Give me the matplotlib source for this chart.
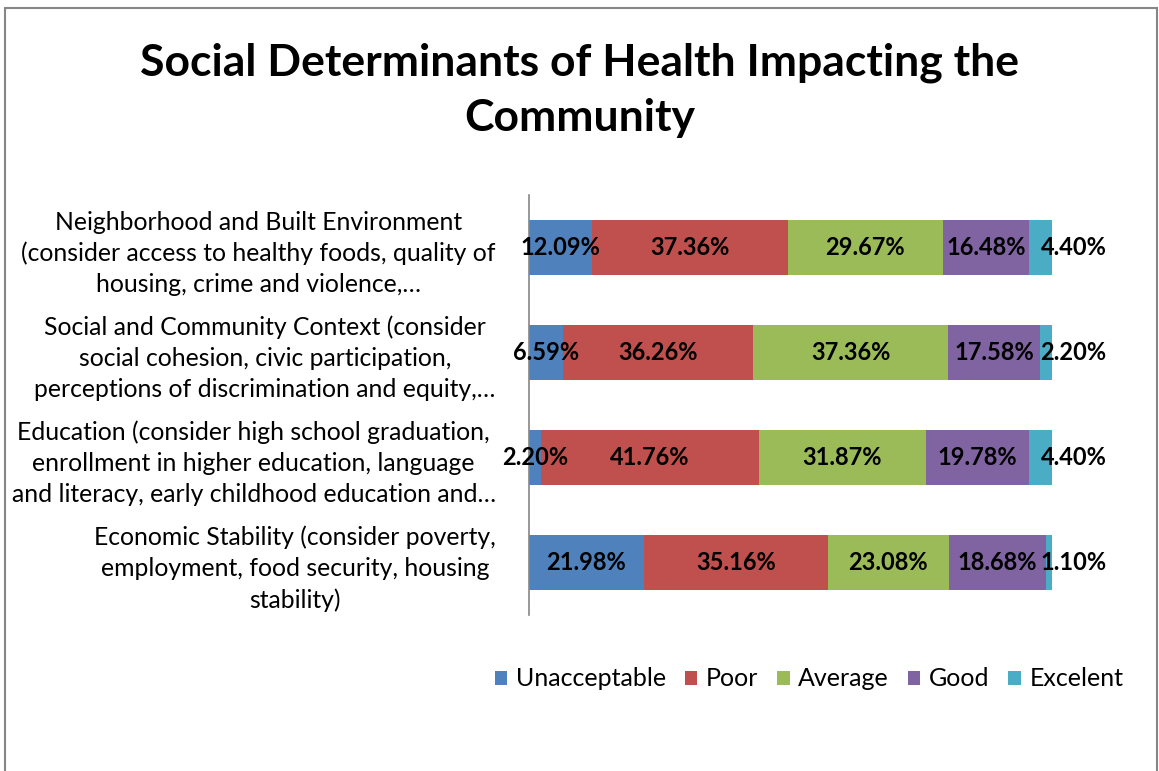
import matplotlib.pyplot as plt
from matplotlib.patches import Rectangle

plt.rcParams['font.family'] = ['Lato', 'DejaVu Sans']

categories = [
    'Neighborhood and Built Environment\n(consider access to healthy foods, quality of\nhousing, crime and violence,\u2026',
    'Social and Community Context (consider\nsocial cohesion, civic participation,\nperceptions of discrimination and equity,\u2026',
    'Education (consider high school graduation,\nenrollment in higher education, language\nand literacy, early childhood education and\u2026',
    'Economic Stability (consider poverty,\nemployment, food security, housing\nstability)',
]
levels = ['Unacceptable', 'Poor', 'Average', 'Good', 'Excelent']
unacceptable = [12.09, 6.59, 2.20, 21.98]
poor = [37.36, 36.26, 41.76, 35.16]
average = [29.67, 37.36, 31.87, 23.08]
good = [16.48, 17.58, 19.78, 18.68]
excelent = [4.40, 2.20, 4.40, 1.10]
colors = ['#4F81BD', '#C0504D', '#9BBB59', '#8064A2', '#4BACC6']

series = [unacceptable, poor, average, good, excelent]

fig = plt.figure(figsize=(11.59, 7.71), dpi=100)
ax = fig.add_axes([529 / 1159, 1 - 615 / 771, 523 / 1159, 420 / 771])

ypos = list(range(len(categories)))
left = [0.0] * len(categories)
for i, (name, vals) in enumerate(zip(levels, series)):
    ax.barh(ypos, vals, left=left, height=0.52, color=colors[i], label=name)
    for j, v in enumerate(vals):
        txt = f'{v:.2f}%'
        if i == len(series) - 1:
            # last segment: label pushed past the bar end, as Excel does
            ax.text(left[j] + v - 2.2, j, txt, ha='left', va='center',
                    fontsize=17, fontweight='bold')
        else:
            ax.text(left[j] + v / 2, j, txt, ha='center', va='center',
                    fontsize=17, fontweight='bold')
        left[j] += v

ax.set_xlim(0, 100)
ax.set_ylim(len(categories) - 0.5, -0.5)
ax.set_yticks(ypos)
ax.set_yticklabels(categories, fontsize=17.8, multialignment='center', linespacing=1.42)
ax.tick_params(axis='y', length=0, pad=24)
ax.set_xticks([])
for s in ['top', 'right', 'bottom']:
    ax.spines[s].set_visible(False)
ax.spines['left'].set_color('#868686')
ax.spines['left'].set_linewidth(1.2)

fig.text(580 / 1159, 1 - 90 / 771, 'Social Determinants of Health Impacting the\nCommunity',
         ha='center', va='center', fontsize=32, fontweight='bold', linespacing=1.45)

fig.legend(loc='center', bbox_to_anchor=(809 / 1159, 1 - 679 / 771), ncol=5,
           frameon=False, fontsize=18, handlelength=0.5, handleheight=0.5,
           handletextpad=0.35, columnspacing=0.75)

fig.add_artist(Rectangle((5 / 1159, -0.1), 1152 / 1159, 1.1 - 8 / 771,
                         transform=fig.transFigure, fill=False,
                         edgecolor='#868686', linewidth=1.5))

plt.savefig('out.png', dpi=100)
